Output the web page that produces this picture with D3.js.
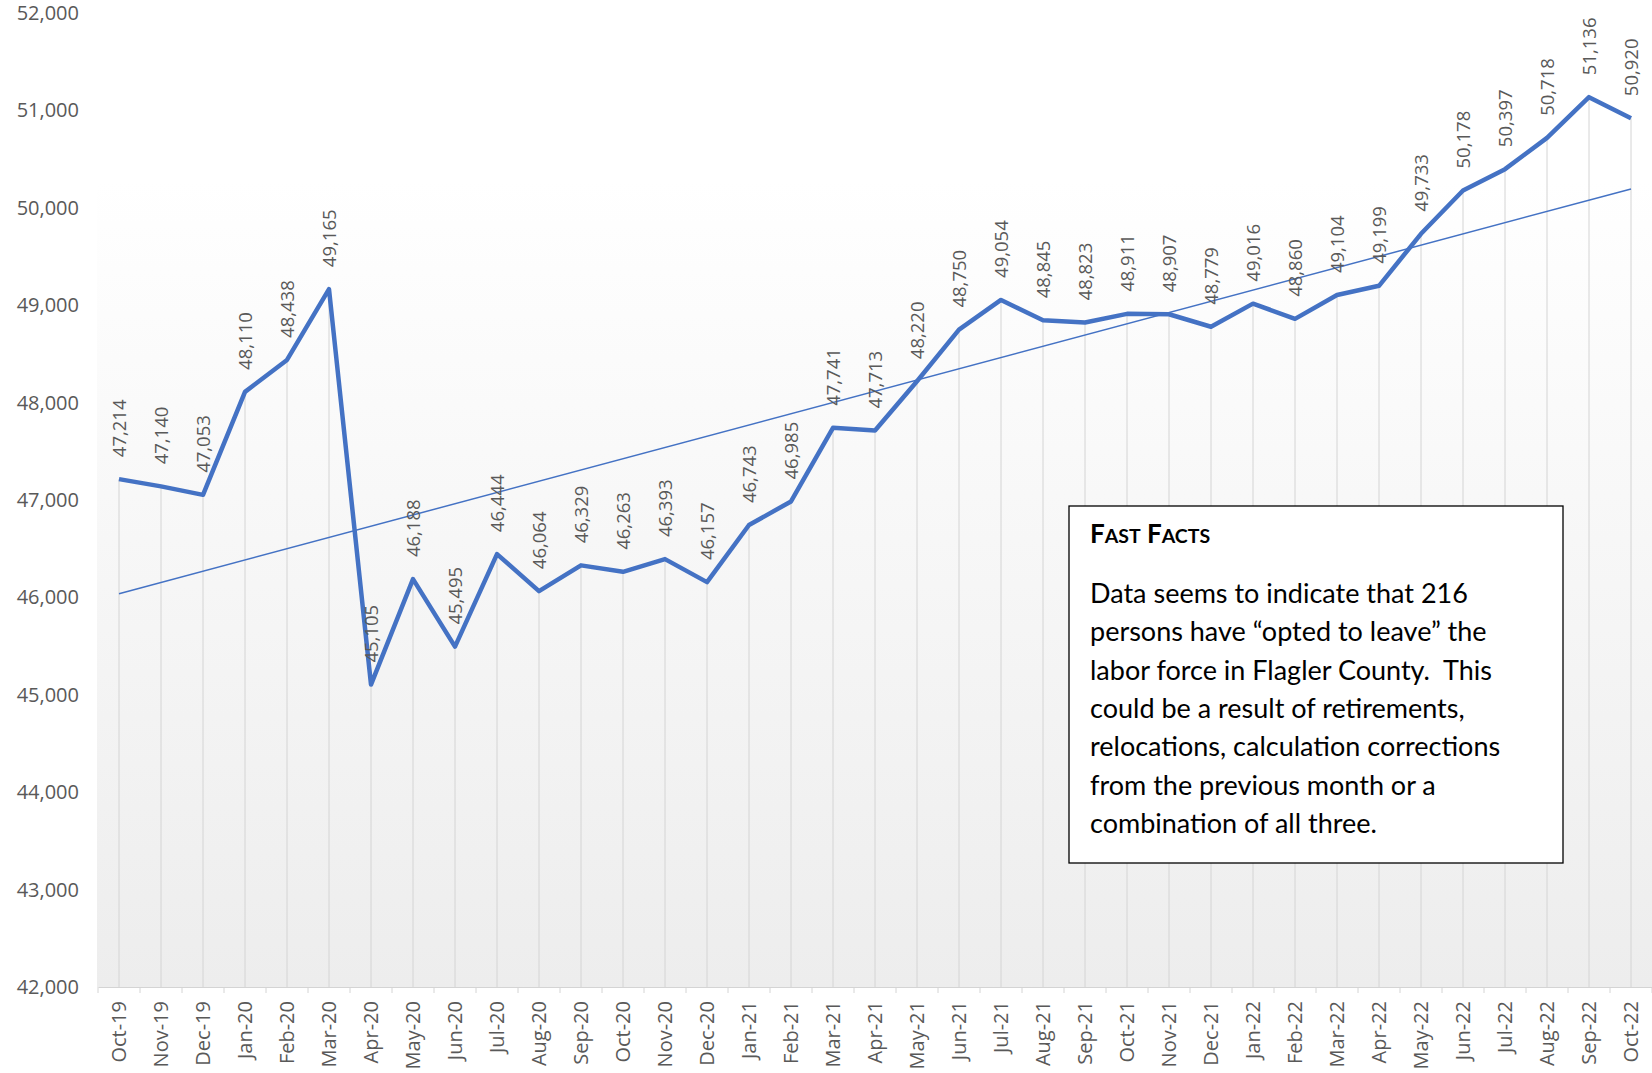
<!DOCTYPE html>
<html>
<head>
    <title>Flagler County Labor Force</title>
    <script src="https://d3js.org/d3.v7.min.js"></script>
    <style>
        body { margin: 0; background: #fff; }
    </style>
</head>
<body>
    <svg width="1652" height="1073"></svg>
    <script>
        // months and labor force values
        const months = ["Oct-19","Nov-19","Dec-19","Jan-20","Feb-20","Mar-20","Apr-20","May-20","Jun-20","Jul-20",
                        "Aug-20","Sep-20","Oct-20","Nov-20","Dec-20","Jan-21","Feb-21","Mar-21","Apr-21","May-21",
                        "Jun-21","Jul-21","Aug-21","Sep-21","Oct-21","Nov-21","Dec-21","Jan-22","Feb-22","Mar-22",
                        "Apr-22","May-22","Jun-22","Jul-22","Aug-22","Sep-22","Oct-22"];
        const laborForce = [47214,47140,47053,48110,48438,49165,45105,46188,45495,46444,
                            46064,46329,46263,46393,46157,46743,46985,47741,47713,48220,
                            48750,49054,48845,48823,48911,48907,48779,49016,48860,49104,
                            49199,49733,50178,50397,50718,51136,50920];
        const yTicks = [42000,43000,44000,45000,46000,47000,48000,49000,50000,51000,52000];
        const factsTitle = "Fast Facts";
        const factsLines = ["Data seems to indicate that 216",
                            "persons have \u201copted to leave\u201d the",
                            "labor force in Flagler County.  This",
                            "could be a result of retirements,",
                            "relocations, calculation corrections",
                            "from the previous month or a",
                            "combination of all three."];

        const svg = d3.select("svg"),
              width = +svg.attr("width"),
              height = +svg.attr("height"),
              margin = {top: 13, right: 0, bottom: 86, left: 98};

        const data = months.map((m, i) => ({month: m, value: laborForce[i], i: i}));

        const x = d3.scaleBand()
                    .domain(months)
                    .range([margin.left, width - margin.right]);
        const y = d3.scaleLinear()
                    .domain([42000, 52000])
                    .range([height - margin.bottom, margin.top]);
        const cx = d => x(d.month) + x.bandwidth() / 2;

        // plot area gradient
        const grad = svg.append("defs").append("linearGradient")
            .attr("id", "bg").attr("x1", 0).attr("y1", 0).attr("x2", 0).attr("y2", 1);
        grad.append("stop").attr("offset", "0%").attr("stop-color", "#ffffff");
        grad.append("stop").attr("offset", "100%").attr("stop-color", "#ededed");

        svg.append("rect")
           .attr("x", margin.left - 1).attr("y", 180)
           .attr("width", width - margin.left + 1)
           .attr("height", y(42000) - 180)
           .attr("fill", "url(#bg)");

        // drop lines
        svg.selectAll(".drop")
           .data(data)
           .enter().append("line")
           .attr("x1", cx).attr("x2", cx)
           .attr("y1", d => y(d.value)).attr("y2", y(42000))
           .attr("stroke", "#d4d4d4").attr("stroke-width", 1);

        // y axis labels
        const yAxis = svg.append("g")
           .attr("transform", `translate(${margin.left},0)`)
           .call(d3.axisLeft(y).tickValues(yTicks).tickSize(0).tickPadding(19).tickFormat(d3.format(",")));
        yAxis.select(".domain").remove();
        yAxis.selectAll("text")
             .style("font-family", "'Open Sans', sans-serif")
             .style("font-size", "20px")
             .attr("fill", "#595959");

        // x axis
        const xAxis = svg.append("g")
           .attr("transform", `translate(0,${y(42000)})`)
           .call(d3.axisBottom(x).tickSize(0));
        xAxis.select(".domain").attr("stroke", "#d4d4d4");
        xAxis.selectAll("text")
             .attr("transform", "rotate(-90)")
             .attr("x", -14).attr("y", 0).attr("dy", "0.36em")
             .style("text-anchor", "end")
             .style("font-family", "'Open Sans', sans-serif")
             .style("font-size", "20px")
             .attr("fill", "#595959");
        // ticks between categories
        xAxis.selectAll(".sep")
             .data(d3.range(months.length + 1))
             .enter().append("line")
             .attr("x1", i => margin.left + i * x.bandwidth())
             .attr("x2", i => margin.left + i * x.bandwidth())
             .attr("y1", 0).attr("y2", 6)
             .attr("stroke", "#d4d4d4");

        // linear trend line (least squares)
        const n = data.length,
              mx = d3.mean(data, d => d.i),
              my = d3.mean(data, d => d.value),
              slope = d3.sum(data, d => (d.i - mx) * (d.value - my)) / d3.sum(data, d => (d.i - mx) ** 2),
              icpt = my - slope * mx;
        svg.append("line")
           .attr("x1", cx(data[0])).attr("y1", y(icpt))
           .attr("x2", cx(data[n - 1])).attr("y2", y(icpt + slope * (n - 1)))
           .attr("stroke", "#4472c4").attr("stroke-width", 1.5);

        // main line
        svg.append("path")
           .datum(data)
           .attr("fill", "none")
           .attr("stroke", "#4472c4")
           .attr("stroke-width", 4.5)
           .attr("stroke-linejoin", "round")
           .attr("d", d3.line().x(cx).y(d => y(d.value)));

        // data labels
        svg.selectAll(".lbl")
           .data(data)
           .enter().append("text")
           .attr("transform", d => `translate(${cx(d)},${y(d.value) - 22}) rotate(-90)`)
           .attr("dy", "0.36em")
           .style("font-family", "'Open Sans', sans-serif")
           .style("font-size", "18.5px")
           .attr("fill", "#595959")
           .text(d => d3.format(",")(d.value));

        // fast facts box
        const box = svg.append("g");
        box.append("rect")
           .attr("x", 1069).attr("y", 506).attr("width", 494).attr("height", 357)
           .attr("fill", "#fff").attr("stroke", "#000").attr("stroke-width", 1.3);
        const title = box.append("text")
           .attr("x", 1090).attr("y", 543)
           .style("font-family", "Lato, sans-serif")
           .style("font-weight", "bold")
           .attr("fill", "#000");
        factsTitle.split(" ").forEach((w, k) => {
            title.append("tspan").style("font-size", "26px").text((k ? " " : "") + w[0]);
            title.append("tspan").style("font-size", "19.5px").text(w.slice(1).toUpperCase());
        });
        box.selectAll(".fl")
           .data(factsLines)
           .enter().append("text")
           .attr("x", 1090)
           .attr("y", (d, i) => 603 + i * 38.3)
           .style("font-family", "Lato, sans-serif")
           .style("font-size", "27px")
           .style("white-space", "pre")
           .attr("fill", "#000")
           .text(d => d);
    </script>
</body>
</html>
